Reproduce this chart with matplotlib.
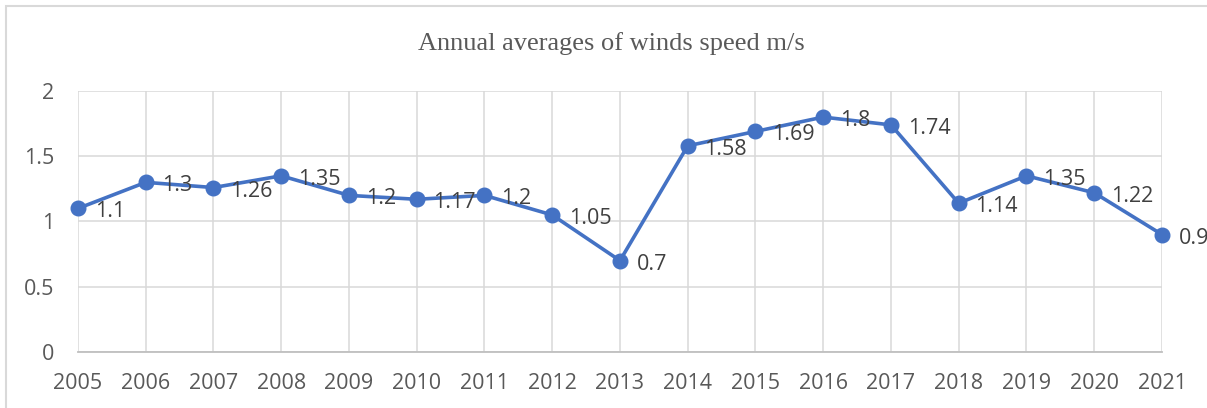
"""
Annual averages of winds speed
"""
import matplotlib
matplotlib.use("Agg")
import matplotlib.pyplot as plt
from matplotlib.patches import Rectangle

years = ["2005", "2006", "2007", "2008", "2009", "2010", "2011", "2012", "2013",
         "2014", "2015", "2016", "2017", "2018", "2019", "2020", "2021"]
wind_speed = [1.1, 1.3, 1.26, 1.35, 1.2, 1.17, 1.2, 1.05, 0.7,
              1.58, 1.69, 1.8, 1.74, 1.14, 1.35, 1.22, 0.9]
y_ticks = [0, 0.5, 1, 1.5, 2]

plt.rcParams["font.family"] = ["Open Sans", "DejaVu Sans"]

fig = plt.figure(figsize=(12.07, 4.08), dpi=100)
ax = fig.add_axes([0.0646, 0.1373, 0.8981, 0.6397])

x = list(range(len(years)))
ax.plot(x, wind_speed, color="#4472C4", linewidth=2.6, marker="o", markersize=10.5,
        clip_on=False, zorder=3)

for xi, v in zip(x, wind_speed):
    ax.annotate(f"{v:g}", (xi, v), xytext=(12, -2.5), textcoords="offset points",
                ha="left", va="center", fontsize=15.5, color="#404040", zorder=4,
                annotation_clip=False)

ax.set_xlim(0, len(years) - 1)
ax.set_ylim(0, 2)
ax.set_xticks(x)
ax.set_xticklabels(years)
ax.set_yticks(y_ticks)
ax.set_yticklabels([f"{t:g}" for t in y_ticks])
ax.tick_params(axis="both", length=0, labelsize=15.5, labelcolor="#595959")
ax.tick_params(axis="x", pad=15)
ax.tick_params(axis="y", pad=17)

ax.grid(True, color="#D9D9D9", linewidth=1.1, zorder=0)
ax.set_axisbelow(True)
for side in ["top", "right", "left"]:
    ax.spines[side].set_visible(False)
ax.spines["bottom"].set_color("#BFBFBF")
ax.spines["bottom"].set_linewidth(1.3)

fig.text(611 / 1207, 1 - 44 / 408, "Annual averages of winds speed m/s",
         ha="center", va="center", fontsize=19, color="#595959",
         family=["Liberation Serif", "DejaVu Serif"])

# chart border (right and bottom fall outside the picture)
fig.patches.append(Rectangle((6 / 1207, -0.1), 1.2, 1 - 6 / 408 + 0.1,
                             transform=fig.transFigure, fill=False,
                             edgecolor="#D9D9D9", linewidth=1.5))

fig.savefig("out.png", dpi=100)
